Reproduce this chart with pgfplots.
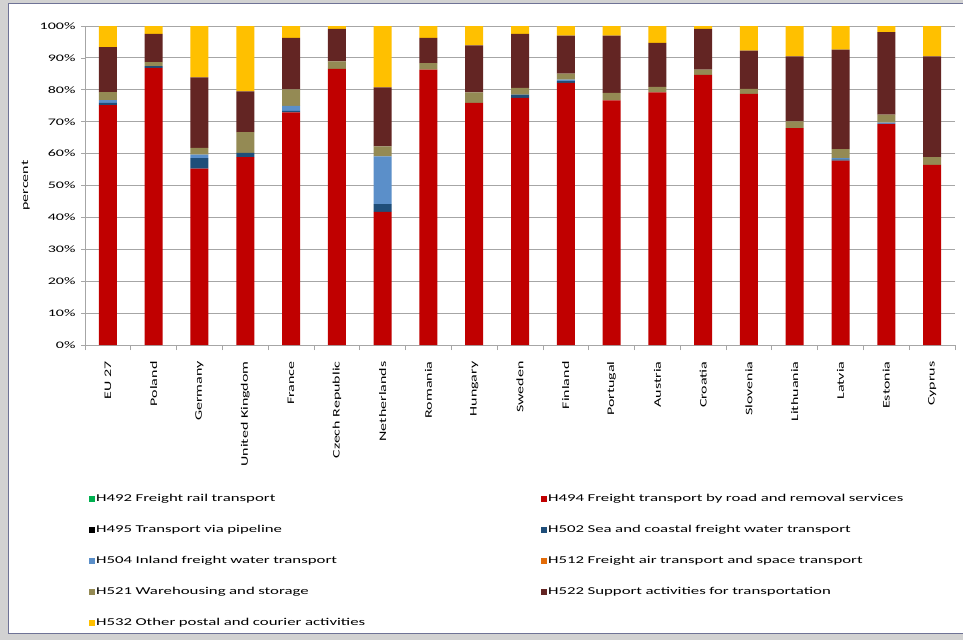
\documentclass[border=0pt]{standalone}
\usepackage{fontspec}
% the reference text is widened, so the font is stretched horizontally
\setmainfont{Carlito}[FakeStretch=1.6]
\usepackage{pgfplots}
\usepackage{pgfplotstable}
\pgfplotsset{compat=1.18}

\definecolor{cRail}{HTML}{00B050}
\definecolor{cRoad}{HTML}{C00000}
\definecolor{cPipe}{HTML}{000000}
\definecolor{cSea}{HTML}{1F4E79}
\definecolor{cInland}{HTML}{5B8FC9}
\definecolor{cAir}{HTML}{E36C09}
\definecolor{cWare}{HTML}{948A54}
\definecolor{cSupp}{HTML}{632523}
\definecolor{cPost}{HTML}{FFC000}
\definecolor{gridgray}{HTML}{A6A6A6}
\definecolor{framecol}{HTML}{6F7396}

% shares in percent
\pgfplotstableread{
x  H492 H494 H495 H502 H504 H512 H521 H522 H532
0  0    75.2 0    0.7  0.9  0    2.5  14.1 6.6
1  0    86.9 0    0.5  0    0    1.3  8.8  2.5
2  0    55.3 0    3.3  1.1  0    2.1  22.1 16.1
3  0    58.9 0    1.3  0    0    6.5  12.8 20.5
4  0    72.9 0    0.5  1.6  0    5.1  16.2 3.7
5  0    86.6 0    0    0    0    2.3  10.2 0.9
6  0    41.7 0    2.5  14.9 0    3.2  18.5 19.2
7  0    86.3 0    0    0    0    2.1  7.9  3.7
8  0    75.9 0    0    0    0    3.3  14.7 6.1
9  0    77.5 0    1.0  0    0    2.1  16.9 2.5
10 0    82.2 0    0.5  0.5  0    1.9  11.9 3.0
11 0    76.7 0    0    0    0    2.3  18.0 3.0
12 0    79.2 0    0    0    0    1.7  13.8 5.3
13 0    84.7 0    0    0    0    1.6  12.8 0.9
14 0    78.7 0    0    0    0    1.6  12.0 7.7
15 0    68.0 0    0    0    0    2.1  20.4 9.5
16 0    57.8 0    0.4  0.4  0    2.8  31.2 7.4
17 0    69.3 0    0    0.4  0    2.5  25.9 1.9
18 0    56.5 0    0    0    0    2.4  31.6 9.5
}\data

\begin{document}
\begin{tikzpicture}
\useasboundingbox (0pt,0pt) rectangle (963pt,-640pt);
% screenshot frame
\fill[gray!35] (0pt,0pt) rectangle (963pt,-640pt);
\fill[white] (8pt,-3pt) rectangle (963pt,-633pt);
\draw[framecol, line width=1pt] (963pt,-3pt) -- (8pt,-3pt) -- (8pt,-633pt) -- (963pt,-633pt);

\begin{axis}[
    at={(85pt,-345pt)}, anchor=south west,
    scale only axis,
    width=870pt, height=319pt,
    ybar stacked,
    bar width=18pt,
    xmin=-0.5, xmax=18.5,
    ymin=0, ymax=100,
    xtick=data,
    xticklabels={EU 27,Poland,Germany,United Kingdom,France,Czech Republic,Netherlands,Romania,Hungary,Sweden,Finland,Portugal,Austria,Croatia,Slovenia,Lithuania,Latvia,Estonia,Cyprus},
    x tick label style={rotate=90, anchor=east, font=\fontsize{10}{11}\selectfont},
    xticklabel shift=9pt,
    major x tick style={draw=none},
    minor xtick={-0.5,0.5,...,18.5},
    minor x tick style={gridgray, line width=0.8pt},
    minor tick length=5pt,
    ytick={0,10,...,100},
    yticklabel={\pgfmathprintnumber{\tick}\%},
    y tick label style={font=\fontsize{10}{11}\selectfont},
    yticklabel shift=2pt,
    /pgf/number format/assume math mode=true,
    ymajorgrids,
    grid style={gridgray, line width=0.9pt},
    major y tick style={gridgray, line width=0.8pt},
    major tick length=4pt,
    tick align=outside,
    axis x line*=bottom,
    axis y line*=left,
    axis line style={gridgray, line width=0.9pt, -},
    ylabel={percent},
    ylabel style={font=\fontsize{10}{11}\selectfont},
    ylabel shift=3pt,
    legend columns=2,
    legend cell align=left,
    legend style={
        at={(axis description cs:0.001,-0.4586)}, anchor=north west,
        draw=none, fill=none,
        font=\fontsize{10.5}{12}\selectfont,
        nodes={text width=444pt, align=left, inner sep=1pt},
        row sep=20.25pt,
    },
    legend image code/.code={\fill[#1, draw=none] (0pt,-3pt) rectangle (6pt,3pt);},
    every axis plot/.append style={draw=none},
]
\addplot[fill=cRail]   table[x=x, y=H492] {\data};
\addplot[fill=cRoad]   table[x=x, y=H494] {\data};
\addplot[fill=cPipe]   table[x=x, y=H495] {\data};
\addplot[fill=cSea]    table[x=x, y=H502] {\data};
\addplot[fill=cInland] table[x=x, y=H504] {\data};
\addplot[fill=cAir]    table[x=x, y=H512] {\data};
\addplot[fill=cWare]   table[x=x, y=H521] {\data};
\addplot[fill=cSupp]   table[x=x, y=H522] {\data};
\addplot[fill=cPost]   table[x=x, y=H532] {\data};
\legend{H492 Freight rail transport,
        H494 Freight transport by road and removal services,
        H495 Transport via pipeline,
        H502 Sea and coastal freight water transport,
        H504 Inland freight water transport,
        H512 Freight air transport and space transport,
        H521 Warehousing and storage,
        H522 Support activities for transportation,
        H532 Other postal and courier activities}
\end{axis}
\end{tikzpicture}
\end{document}
